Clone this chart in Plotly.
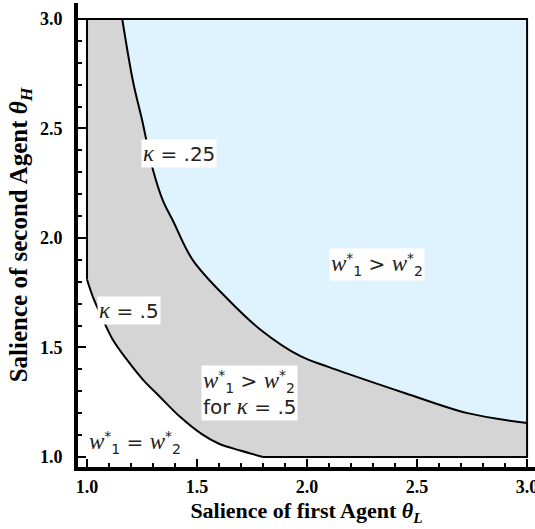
import plotly.graph_objects as go

# kappa = .25 boundary (theta_L, theta_H)
k25_x = [1.16, 1.21, 1.25, 1.30, 1.345, 1.39, 1.48, 1.64, 1.79, 1.97, 2.10, 2.33, 2.45, 2.73, 3.0]
k25_y = [3.0, 2.71, 2.54, 2.31, 2.17, 2.08, 1.90, 1.72, 1.58, 1.46, 1.41, 1.33, 1.29, 1.20, 1.155]

# kappa = .5 boundary
k5_x = [1.0, 1.027, 1.073, 1.118, 1.182, 1.255, 1.332, 1.423, 1.52, 1.60, 1.70, 1.80]
k5_y = [1.81, 1.73, 1.626, 1.534, 1.443, 1.352, 1.274, 1.183, 1.105, 1.06, 1.028, 1.0]

x_lo, x_hi = 1.0, 3.0
y_lo, y_hi = 1.0, 3.0

x_ticks = [1.0, 1.5, 2.0, 2.5, 3.0]
y_ticks = [1.0, 1.5, 2.0, 2.5, 3.0]

gray = "#d5d5d5"
blue = "#def3fd"

# gray region: between kappa=.5 and kappa=.25 curves inside the box
gx = [x_lo, x_lo] + k25_x + [x_hi, k5_x[-1]] + k5_x[::-1]
gy = [k5_y[0], y_hi] + k25_y + [y_lo, y_lo] + k5_y[::-1]

# blue region: above kappa=.25
bx = [k25_x[0], x_hi, x_hi] + k25_x[::-1]
by = [y_hi, y_hi, k25_y[-1]] + k25_y[::-1]

fig = go.Figure()
fig.add_trace(go.Scatter(x=gx, y=gy, fill="toself", fillcolor=gray, mode="lines",
                         line=dict(color="rgba(0,0,0,0)", width=0), hoverinfo="skip", showlegend=False))
fig.add_trace(go.Scatter(x=bx, y=by, fill="toself", fillcolor=blue, mode="lines",
                         line=dict(color="rgba(0,0,0,0)", width=0), hoverinfo="skip", showlegend=False))
# straight borders
fig.add_trace(go.Scatter(x=[x_lo, x_lo, x_hi, x_hi, k5_x[-1]],
                         y=[k5_y[0], y_hi, y_hi, y_lo, y_lo], mode="lines",
                         line=dict(color="black", width=2), hoverinfo="skip", showlegend=False))
# curved borders
for cx, cy in ((k25_x, k25_y), (k5_x, k5_y)):
    fig.add_trace(go.Scatter(x=cx, y=cy, mode="lines",
                             line=dict(color="black", width=2, shape="spline", smoothing=1.0),
                             hoverinfo="skip", showlegend=False))

afont = dict(family="DejaVu Sans", size=20, color="#222")
kap = "<span style='font-family:Liberation Serif;font-size:23px'><i>κ</i></span>"
w = "<span style='font-family:Liberation Serif;font-size:23px'><i>w</i></span>"
w1 = w + "<sup>*</sup><sub>1</sub>"
w2 = w + "<sup>*</sup><sub>2</sub>"
annots = [
    (1.418, 2.386, kap + " = .25", "white", "center"),
    (1.19, 1.67, kap + " = .5", "white", "center"),
    (2.32, 1.877, w1 + " > " + w2, "white", "center"),
    (1.74, 1.29, w1 + " > " + w2 + "<br>for " + kap + " = .5", "white", "left"),
    (1.22, 1.064, w1 + " = " + w2, "rgba(0,0,0,0)", "center"),
]
for ax_, ay_, t, bg, al in annots:
    fig.add_annotation(x=ax_, y=ay_, text=t, showarrow=False, font=afont,
                       bgcolor=bg, borderpad=1, align=al)

tickfont = dict(family="Liberation Serif", size=18, color="black")
xtitlefont = dict(family="Liberation Serif", size=22, color="black")
ytitlefont = dict(family="Liberation Serif", size=25, color="black")

common = dict(showline=True, linewidth=4, linecolor="black", ticks="inside", ticklen=8,
              tickwidth=2, tickcolor="black", showgrid=False, zeroline=False,
              tickfont=tickfont, automargin=False, ticklabeloverflow="allow",
              minor=dict(ticks="inside", ticklen=4, tickwidth=1.5, tickcolor="black", dtick=0.1))

fig.update_xaxes(range=[0.959, 3.036], tickvals=x_ticks,
                 ticktext=["<b>%.1f</b>" % v for v in x_ticks],
                 title=dict(text="<b>Salience of first Agent <i>θ<sub>L</sub></i></b>", font=xtitlefont, standoff=8),
                 **common)
fig.update_yaxes(range=[0.954, 3.073], tickvals=y_ticks,
                 ticktext=["<b>%.1f</b>" % v for v in y_ticks],
                 ticklabelstandoff=8,
                 title=dict(text="<b>Salience of second Agent <i>θ<sub>H</sub></i></b>", font=ytitlefont, standoff=6),
                 **common)

fig.update_layout(width=535, height=529, margin=dict(l=78, r=0, t=3, b=62),
                  plot_bgcolor="white", paper_bgcolor="white")

fig.write_html("out.html", config={"displayModeBar": False},
               post_script="document.body.style.margin='0';")
